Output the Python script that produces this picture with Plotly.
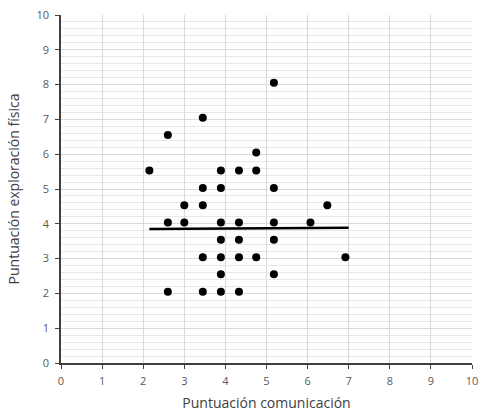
import plotly.graph_objects as go

# Scores: communication (x) vs physical exploration (y)
comunicacion = [2.15, 2.6, 3.45, 5.18, 4.75, 3.89, 4.33, 4.75, 3.45, 3.89, 5.18,
                3.0, 3.45, 6.48, 2.6, 3.0, 3.89, 4.33, 5.18, 6.07, 3.89, 4.33,
                5.18, 3.45, 3.89, 4.33, 4.75, 6.92, 3.89, 5.18, 2.6, 3.45, 3.89, 4.33]
exploracion = [5.53, 6.55, 7.05, 8.05, 6.05, 5.53, 5.53, 5.53, 5.03, 5.03, 5.03,
               4.53, 4.53, 4.53, 4.04, 4.04, 4.04, 4.04, 4.04, 4.04, 3.54, 3.54,
               3.54, 3.04, 3.04, 3.04, 3.04, 3.04, 2.55, 2.55, 2.05, 2.05, 2.05, 2.05]

# Linear trend line endpoints
tendencia_x = [2.15, 7.0]
tendencia_y = [3.85, 3.89]

axis_ticks = [0, 1, 2, 3, 4, 5, 6, 7, 8, 9, 10]

fig = go.Figure()
fig.add_trace(go.Scatter(
    x=tendencia_x, y=tendencia_y, mode="lines",
    line=dict(color="black", width=2.5), hoverinfo="skip", showlegend=False,
))
fig.add_trace(go.Scatter(
    x=comunicacion, y=exploracion, mode="markers",
    marker=dict(color="black", size=8), showlegend=False,
))

label_font = dict(family="Open Sans, Lato, sans-serif", size=11, color="#595959")
title_font = dict(family="Open Sans, Lato, sans-serif", size=14, color="#404040")

fig.update_xaxes(
    range=[0, 10], tickvals=axis_ticks, ticktext=[str(t) for t in axis_ticks],
    showgrid=True, gridcolor="#d9d9d9", gridwidth=1,
    showline=True, linecolor="#404040", linewidth=1.5,
    ticks="outside", ticklen=4, tickcolor="#404040", ticklabelstandoff=3,
    zeroline=False, tickfont=label_font, automargin=False,
    title=dict(text="Puntuación comunicación", font=title_font, standoff=12),
)
fig.update_yaxes(
    range=[0, 10], tickvals=axis_ticks, ticktext=[str(t) for t in axis_ticks],
    showgrid=True, gridcolor="#d9d9d9", gridwidth=1,
    minor=dict(dtick=0.2, showgrid=True, gridcolor="#e8e8e8", gridwidth=1),
    showline=True, linecolor="#404040", linewidth=1.5,
    ticks="outside", ticklen=4, tickcolor="#404040", ticklabelstandoff=4,
    zeroline=False, tickfont=label_font, automargin=False,
    title=dict(text="Puntuación exploración física", font=title_font, standoff=14),
)

fig.update_layout(
    width=484, height=412,
    margin=dict(l=61, r=12, t=15, b=49),
    paper_bgcolor="white", plot_bgcolor="white",
)

fig.write_html("out.html")
